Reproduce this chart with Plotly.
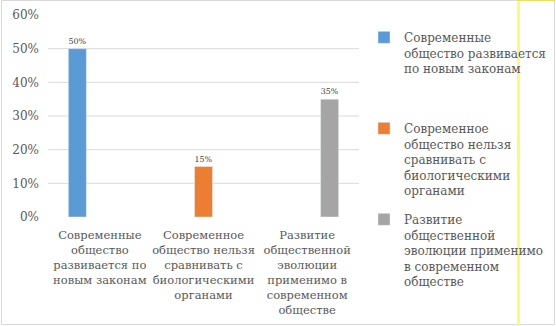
import plotly.graph_objects as go

categories = [
    "Современные<br>общество<br>развивается по<br>новым законам",
    "Современное<br>общество нельзя<br>сравнивать с<br>биологическими<br>органами",
    "Развитие<br>общественной<br>эволюции<br>применимо в<br>современном<br>обществе",
]
series_names = [
    "Современные<br>общество развивается<br>по новым законам<br>\u00a0<br>\u00a0",
    "Современное<br>общество нельзя<br>сравнивать с<br>биологическими<br>органами",
    "Развитие<br>общественной<br>эволюции применимо<br>в современном<br>обществе",
]
values = [0.50, 0.15, 0.35]
colors = ["#5B9BD5", "#ED7D31", "#A5A5A5"]
y_ticks = [0, 0.1, 0.2, 0.3, 0.4, 0.5, 0.6]

W, H = 556, 326
L, R, T, B = 48, 197, 15, 109
pw, ph = W - L - R, H - T - B

def px_x(p):
    return (p - L) / pw

def px_y(p):
    return (H - B - p) / ph

serif = "DejaVu Serif"

fig = go.Figure()
for i in range(3):
    yv = [values[i] if j == i else None for j in range(3)]
    fig.add_trace(go.Bar(
        x=categories, y=yv, name=series_names[i],
        legendgroup=f"g{i}",
        marker_color=colors[i],
        texttemplate="%{y:.0%}", textposition="outside",
        textfont=dict(family=serif, size=9, color="#404040"),
        cliponaxis=False,
    ))

for v in y_ticks[1:-1]:
    fig.add_shape(type="line", xref="paper", yref="y", x0=0, x1=1, y0=v, y1=v,
                  line=dict(color="#D9D9D9", width=1), layer="below")

# outer chart border
fig.add_shape(type="rect", xref="paper", yref="paper",
              x0=px_x(1.5), x1=px_x(554.5), y0=px_y(324.5), y1=px_y(0.5),
              line=dict(color="#D9D9D9", width=1), layer="below")
# yellow vertical line
fig.add_shape(type="line", xref="paper", yref="paper",
              x0=px_x(518.5), x1=px_x(518.5), y0=px_y(326), y1=px_y(0),
              line=dict(color="#FFF878", width=3))
fig.add_shape(type="line", xref="paper", yref="paper",
              x0=px_x(517), x1=px_x(555), y0=px_y(0.5), y1=px_y(0.5),
              line=dict(color="#E8E060", width=1))

fig.update_layout(
    width=W, height=H,
    margin=dict(l=L, r=R, t=T, b=B, autoexpand=False),
    paper_bgcolor="white", plot_bgcolor="white",
    barmode="group", bargap=0.35, bargroupgap=0.2,
    showlegend=True,
    legend=dict(x=px_x(364), y=px_y(23), xanchor="left", yanchor="top",
                valign="top", font=dict(family=serif, size=12, color="#595959"),
                bgcolor="rgba(0,0,0,0)", itemclick=False, maxheight=330,
                traceorder="grouped", tracegroupgap=10),
    font=dict(family=serif, color="#595959"),
    xaxis=dict(showgrid=False, showline=False, ticks="outside", ticklen=7,
               tickcolor="rgba(0,0,0,0)", tickangle=0,
               tickfont=dict(family=serif, size=11.5, color="#595959")),
    yaxis=dict(range=[0, 0.6], tickvals=y_ticks, tickformat=".0%",
               showgrid=False, zeroline=False, showline=False, ticks="",
               ticklabelstandoff=8,
               tickfont=dict(family=serif, size=12, color="#595959")),
)

fig.write_html("out.html")
